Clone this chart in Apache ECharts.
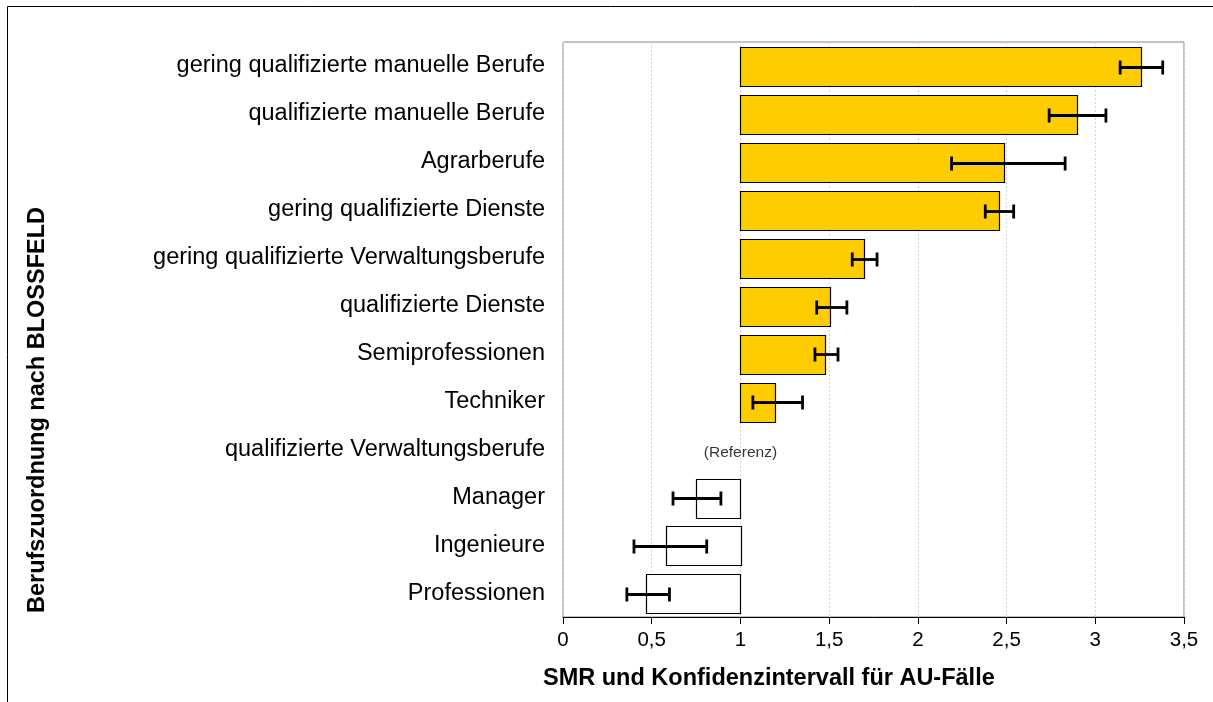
<!DOCTYPE html>
<html>
<head>
<meta charset="utf-8">
<script src="https://cdn.jsdelivr.net/npm/echarts@6/dist/echarts.min.js"></script>
<style>
  html, body { margin: 0; padding: 0; background: #fff; }
  #chart { width: 1213px; height: 702px; }
</style>
</head>
<body>
<div id="chart"></div>
<script>
// Berufsgruppen (oben nach unten)
const categories = [
  'gering qualifizierte manuelle Berufe',
  'qualifizierte manuelle Berufe',
  'Agrarberufe',
  'gering qualifizierte Dienste',
  'gering qualifizierte Verwaltungsberufe',
  'qualifizierte Dienste',
  'Semiprofessionen',
  'Techniker',
  'qualifizierte Verwaltungsberufe',
  'Manager',
  'Ingenieure',
  'Professionen'
]
const smr = [3.26, 2.90, 2.49, 2.46, 1.70, 1.51, 1.48, 1.20, 1, 0.75, 0.58, 0.47]
const ciLow = [3.14, 2.74, 2.19, 2.38, 1.63, 1.43, 1.42, 1.07, null, 0.62, 0.40, 0.36]
const ciHigh = [3.38, 3.06, 2.83, 2.54, 1.77, 1.60, 1.55, 1.35, null, 0.89, 0.81, 0.60]
const xTicks = [0, 0.5, 1, 1.5, 2, 2.5, 3, 3.5]
const referenceIndex = 8
const baseline = 1

const font = '"Liberation Sans", Arial, sans-serif'

const chart = echarts.init(document.getElementById('chart'))

const barData = smr.map((v, i) => [v, i])
const errData = smr.map((v, i) => [ciLow[i], ciHigh[i], i]).filter(d => d[0] != null)

const option = {
  animation: false,
  grid: { left: 563, right: 29, top: 42, bottom: 85, show: true, borderColor: '#888', borderWidth: 1 },
  xAxis: {
    type: 'value',
    min: xTicks[0],
    max: xTicks[xTicks.length - 1],
    interval: 0.5,
    axisLine: { show: true, onZero: false, lineStyle: { color: '#000', width: 1 } },
    axisTick: { show: true, length: 7, lineStyle: { color: '#000' } },
    axisLabel: {
      color: '#000', fontSize: 20.5, fontFamily: font, margin: 13,
      formatter: v => String(v).replace('.', ',')
    },
    splitLine: { show: true, lineStyle: { color: '#d4d4d4', type: [2, 2], width: 1 } }
  },
  yAxis: {
    type: 'category',
    data: categories,
    inverse: true,
    axisLine: { show: false },
    axisTick: { show: false },
    axisLabel: { color: '#000', fontSize: 23.5, fontFamily: font, margin: 18, padding: [4, 0, 0, 0] },
    splitLine: { show: false }
  },
  series: [
    {
      type: 'custom',
      data: barData,
      renderItem: function (params, api) {
        const v = api.value(0)
        const idx = api.value(1)
        if (idx === referenceIndex) return null
        const p1 = api.coord([baseline, idx])
        const p2 = api.coord([v, idx])
        const h = api.size([0, 1])[1] * 0.82
        const x = Math.min(p1[0], p2[0])
        const w = Math.abs(p2[0] - p1[0])
        return {
          type: 'rect',
          shape: { x: Math.round(x) + 0.5, y: Math.round(p1[1] - h / 2) + 1.5, width: Math.round(w), height: Math.round(h) },
          style: { fill: v >= baseline ? '#ffcc00' : '#ffffff', stroke: '#000', lineWidth: 1.2 }
        }
      }
    },
    {
      type: 'custom',
      data: errData,
      z: 5,
      renderItem: function (params, api) {
        const lo = api.coord([api.value(0), api.value(2)])
        const hi = api.coord([api.value(1), api.value(2)])
        const y = Math.round(lo[1]) + 1.5
        const cap = 7
        const st = { stroke: '#000', lineWidth: 2.8 }
        return {
          type: 'group',
          children: [
            { type: 'line', shape: { x1: lo[0], y1: y, x2: hi[0], y2: y }, style: st },
            { type: 'line', shape: { x1: lo[0], y1: y - cap, x2: lo[0], y2: y + cap }, style: st },
            { type: 'line', shape: { x1: hi[0], y1: y - cap, x2: hi[0], y2: y + cap }, style: st }
          ]
        }
      }
    },
    {
      type: 'scatter',
      data: [[baseline, referenceIndex]],
      symbolSize: 0,
      label: {
        show: true, position: 'inside', formatter: '(Referenz)',
        color: '#000', fontSize: 15.5, fontFamily: font, offset: [0, 3]
      }
    }
  ],
  graphic: [
    {
      type: 'rect', silent: true,
      shape: { x: 7.5, y: 6.5, width: 1230, height: 720 },
      style: { fill: 'none', stroke: '#000', lineWidth: 1 }
    },
    {
      type: 'text', x: 543, y: 679,
      style: {
        text: 'SMR und Konfidenzintervall für AU-Fälle', font: 'bold 23.5px ' + font, fill: '#000',
        verticalAlign: 'middle'
      }
    },
    {
      type: 'text', x: 38, y: 410, rotation: Math.PI / 2,
      style: {
        text: 'Berufszuordnung nach BLOSSFELD', font: 'bold 23.5px ' + font, fill: '#000',
        align: 'center', verticalAlign: 'middle'
      }
    }
  ]
}

chart.setOption(option)
</script>
</body>
</html>
